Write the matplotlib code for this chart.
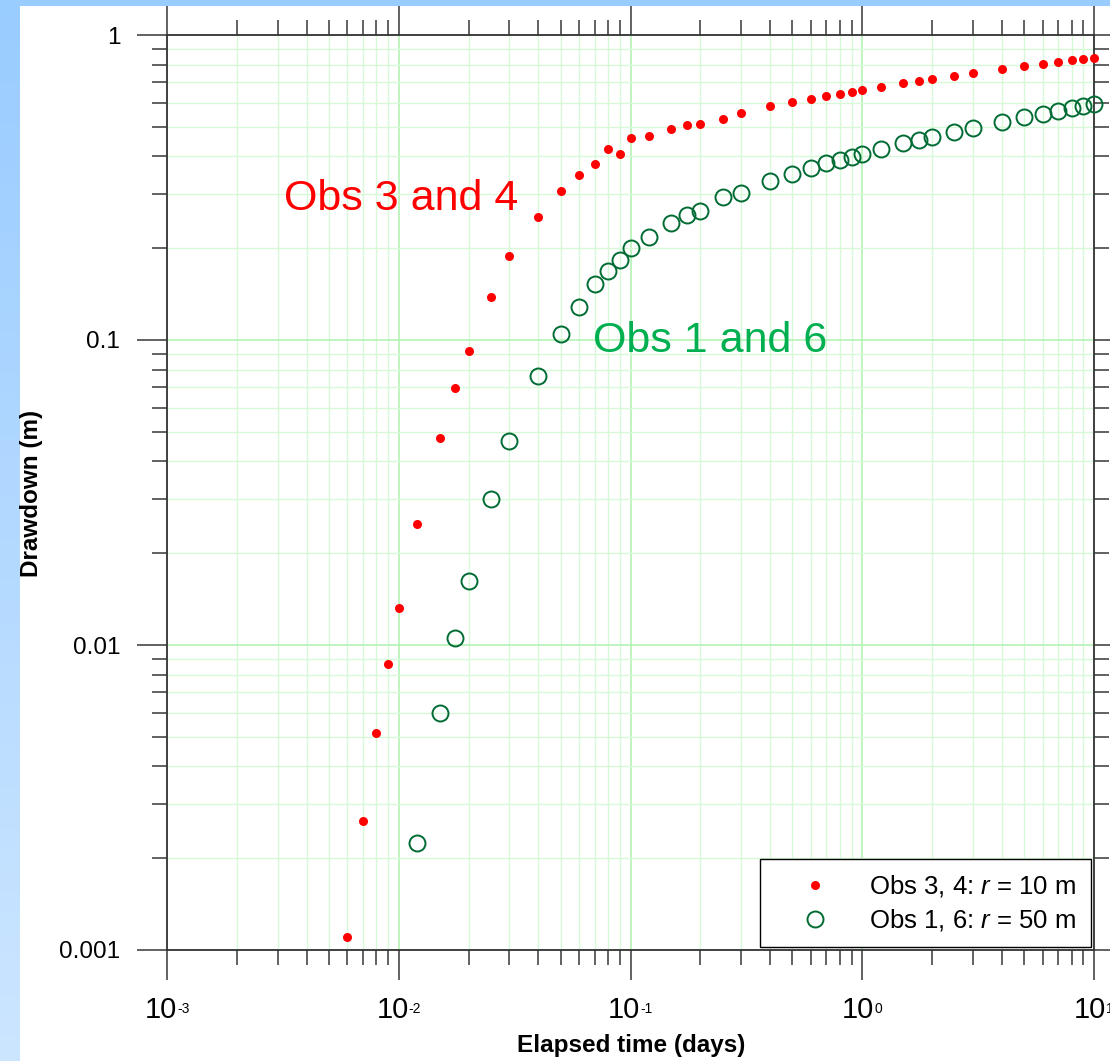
import numpy as np
import matplotlib
matplotlib.use('Agg')
import matplotlib.pyplot as plt
from matplotlib.patches import Rectangle
from matplotlib.ticker import LogLocator, NullFormatter

plt.rcParams['font.family'] = 'Liberation Sans'
plt.rcParams['mathtext.fontset'] = 'custom'
plt.rcParams['mathtext.rm'] = 'Liberation Sans'
plt.rcParams['mathtext.it'] = 'Liberation Sans:italic'

# Elapsed time (days), Obs 3 and 4 (r = 10 m)
times_near = [0.006, 0.007, 0.008, 0.009, 0.01, 0.012, 0.015, 0.0175, 0.02, 0.025,
              0.03, 0.04, 0.05, 0.06, 0.07, 0.08, 0.09, 0.1, 0.12, 0.15, 0.175,
              0.2, 0.25, 0.3, 0.4, 0.5, 0.6, 0.7, 0.8, 0.9, 1.0, 1.2, 1.5, 1.75,
              2, 2.5, 3, 4, 5, 6, 7, 8, 9, 10]
drawdown_near = [0.0011, 0.00265, 0.00515, 0.00867, 0.0132, 0.0249, 0.0477, 0.0696,
                 0.092, 0.138, 0.1886, 0.2525, 0.307, 0.3467, 0.3767, 0.4219, 0.408,
                 0.4606, 0.4665, 0.4918, 0.508, 0.5095, 0.5316, 0.5549, 0.585, 0.6044,
                 0.618, 0.6325, 0.642, 0.650, 0.660, 0.675, 0.694, 0.707, 0.718, 0.734,
                 0.751, 0.772, 0.791, 0.805, 0.818, 0.828, 0.836, 0.843]

# Obs 1 and 6 (r = 50 m)
times_far = [0.012, 0.015, 0.0175, 0.02, 0.025, 0.03, 0.04, 0.05, 0.06, 0.07, 0.08,
             0.09, 0.1, 0.12, 0.15, 0.175, 0.2, 0.25, 0.3, 0.4, 0.5, 0.6, 0.7, 0.8,
             0.9, 1.0, 1.2, 1.5, 1.75, 2, 2.5, 3, 4, 5, 6, 7, 8, 9, 10]
drawdown_far = [0.00224, 0.00598, 0.01054, 0.0162, 0.0301, 0.0467, 0.0762, 0.1046,
                0.128, 0.1527, 0.168, 0.183, 0.2003, 0.218, 0.2424, 0.2574, 0.265,
                0.295, 0.304, 0.332, 0.351, 0.367, 0.3796, 0.389, 0.398, 0.408, 0.4228,
                0.441, 0.452, 0.464, 0.481, 0.496, 0.519, 0.537, 0.551, 0.565, 0.575,
                0.585, 0.593]

x_exponents = [-3, -2, -1, 0, 1]
y_ticks = [0.001, 0.01, 0.1, 1]
y_ticklabels = ['0.001', '0.01', '0.1', '1']

W, H = 1110, 1061
fig = plt.figure(figsize=(W / 100, H / 100), dpi=100)
fig.patch.set_facecolor('white')

# blue frame: gradient strip on the left, flat strip on top
bg = fig.add_axes([0, 0, 20 / W, 1])
grad = np.linspace(0, 1, 256)[:, None, None]
top_c = np.array([0.60, 0.80, 1.00])
bot_c = np.array([0.80, 0.90, 1.00])
bg.imshow(top_c + grad * (bot_c - top_c), aspect='auto', extent=[0, 1, 0, 1])
bg.axis('off')
fig.add_artist(Rectangle((0, 1 - 6 / H), 1, 6 / H, transform=fig.transFigure,
                         color='#99ccff', lw=0))

ax = fig.add_axes([167 / W, 1 - 950 / H, 927 / W, 915 / H])
ax.set_xscale('log')
ax.set_yscale('log')
ax.set_xlim(1e-3, 10)
ax.set_ylim(1e-3, 1)

ax.xaxis.set_minor_locator(LogLocator(base=10, subs=np.arange(2, 10), numticks=100))
ax.yaxis.set_minor_locator(LogLocator(base=10, subs=np.arange(2, 10), numticks=100))
ax.xaxis.set_minor_formatter(NullFormatter())
ax.yaxis.set_minor_formatter(NullFormatter())
ax.set_yticks(y_ticks)
ax.set_yticklabels(y_ticklabels)

ax.set_axisbelow(True)
ax.grid(which='major', color='#b4f2b4', lw=1.2)
ax.grid(which='minor', color='#d8f9d8', lw=1.0)

for s in ax.spines.values():
    s.set_color('#333333')
    s.set_linewidth(1.3)
ax.tick_params(which='both', direction='out', top=True, right=True,
               color='#555555', width=1.3, labelbottom=False)
ax.tick_params(which='major', length=21.6)
ax.tick_params(which='minor', length=10.8)
ax.tick_params(axis='y', labelsize=17.5, pad=12)

ax.plot(times_near, drawdown_near, 'o', color='#ff0000', ms=6.5, mew=0,
        clip_on=False, zorder=3, label='Obs 3, 4: $r$ = 10 m')
ax.plot(times_far, drawdown_far, 'o', mfc='none', mec='#006b33', ms=11.5, mew=1.4,
        clip_on=False, zorder=3, label='Obs 1, 6: $r$ = 50 m')

# x tick labels as 10 with a small raised exponent
fs_main, fs_exp = 21, 10
for e in x_exponents:
    ex = str(e)
    w_main = 1.112 * fs_main
    w_exp = (0.556 * len(ex.lstrip('-')) + (0.333 if e < 0 else 0)) * fs_exp
    start = -(w_main + w_exp) / 2
    ax.annotate('10', xy=(10.0 ** e, 0), xycoords=('data', 'axes fraction'),
                xytext=(start, -68 * 0.72), textcoords='offset points',
                ha='left', va='baseline', fontsize=fs_main, annotation_clip=False)
    ax.annotate(ex, xy=(10.0 ** e, 0), xycoords=('data', 'axes fraction'),
                xytext=(start + w_main, -63.3 * 0.72), textcoords='offset points',
                ha='left', va='baseline', fontsize=fs_exp, annotation_clip=False)

ax.text(0.00321, 0.267, 'Obs 3 and 4', color='#ff0000', fontsize=31,
        ha='left', va='baseline')
ax.text(0.0689, 0.0913, 'Obs 1 and 6', color='#00b050', fontsize=31,
        ha='left', va='baseline')

leg = ax.legend(loc='lower right', bbox_to_anchor=(0.9964, 0.003), borderaxespad=0,
                fontsize=18.5, frameon=True, fancybox=False, edgecolor='black',
                framealpha=1, borderpad=0.55, handlelength=3.2, handletextpad=0.5,
                labelspacing=0.3)
leg.get_frame().set_linewidth(1.0)

fig.text(631 / W, 1 - 1051.7 / H, 'Elapsed time (days)', fontsize=17.5,
         fontweight='bold', ha='center', va='baseline')
fig.text(32 / W, 1 - 493 / H, 'Drawdown (m)', fontsize=17.5, fontweight='bold',
         rotation=90, ha='center', va='center')

fig.savefig('out.png', dpi=100)
